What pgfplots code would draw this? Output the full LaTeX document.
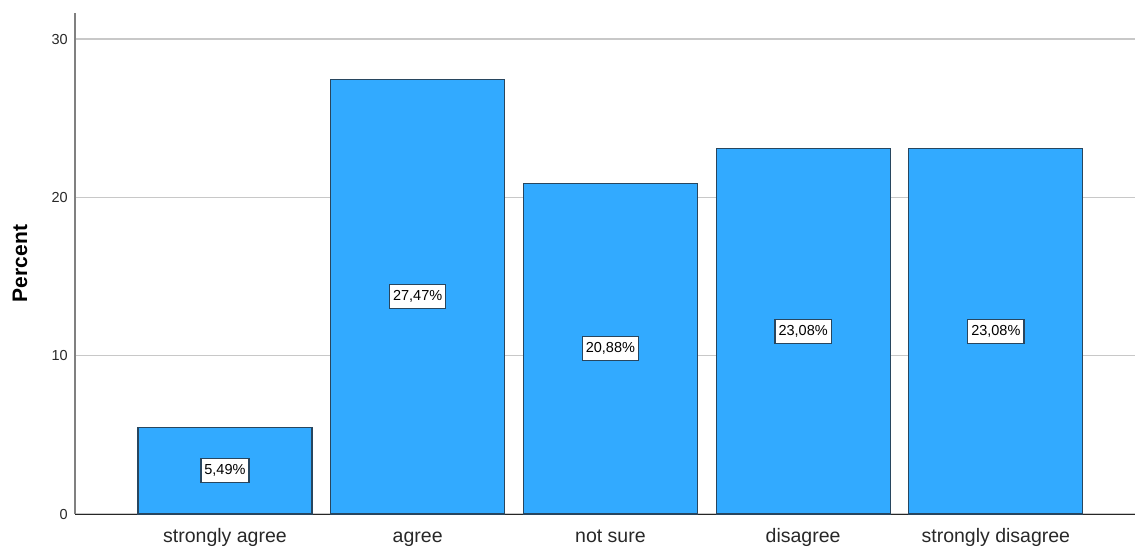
\documentclass[border=0pt]{standalone}
\usepackage{pgfplots}
\pgfplotsset{compat=1.18}
\usepackage{fontspec}
\setmainfont{Liberation Sans}

\definecolor{barfill}{RGB}{50,170,255}
\definecolor{baredge}{RGB}{40,70,95}
\definecolor{gridgray}{RGB}{200,200,200}
\definecolor{labeltext}{RGB}{40,40,40}

\begin{document}
\begin{tikzpicture}
\begin{axis}[
  name=ax,
  scale only axis,
  width=1060bp, height=501bp,
  xmin=-0.778, xmax=4.722,
  ymin=0, ymax=31.65,
  ybar, bar width=174bp,
  axis x line*=bottom, axis y line*=left,
  x axis line style={-, draw=black!85, line width=1bp},
  y axis line style={-, draw=gray, line width=1.2bp},
  xtick=data,
  xticklabels={strongly agree, agree, not sure, disagree, strongly disagree},
  ytick={0,10,20,30},
  major tick length=0pt,
  ymajorgrids,
  grid style={gridgray, line width=1.5bp},
  xticklabel style={font=\fontsize{19.5bp}{22bp}\selectfont, text=labeltext,
    anchor=north, inner sep=0pt, text height=14bp, text depth=4bp, yshift=-14bp},
  yticklabel style={font=\fontsize{14.5bp}{17bp}\selectfont, text=labeltext,
    anchor=east, inner sep=0pt, xshift=-7bp},
  /pgf/number format/assume math mode=true,
  ylabel={Percent},
  every axis y label/.style={at={(axis description cs:-0.0519,0.5)},
    rotate=90, anchor=center, font=\fontsize{21bp}{24bp}\selectfont\bfseries},
  point meta=y,
  visualization depends on={y \as \rawy},
  nodes near coords={\pgfmathprintnumber[fixed,fixed zerofill,precision=2,use comma]{\pgfplotspointmeta}\%},
  every node near coord/.append style={anchor=center,
    shift={(axis direction cs:0,-\rawy/2)},
    draw=baredge, fill=white, line width=1.3bp, inner xsep=3.5bp, inner ysep=0pt,
    minimum height=24bp, text=black,
    font=\fontsize{14.5bp}{17bp}\selectfont},
]
\addplot[fill=barfill, draw=baredge, line width=1.2bp]
  coordinates {(0,5.49) (1,27.47) (2,20.88) (3,23.08) (4,23.08)};
\end{axis}
\pgfresetboundingbox
\path ([shift={(-75bp,-33bp)}]ax.south west) rectangle ([shift={(0bp,13bp)}]ax.north east);
\end{tikzpicture}
\end{document}
